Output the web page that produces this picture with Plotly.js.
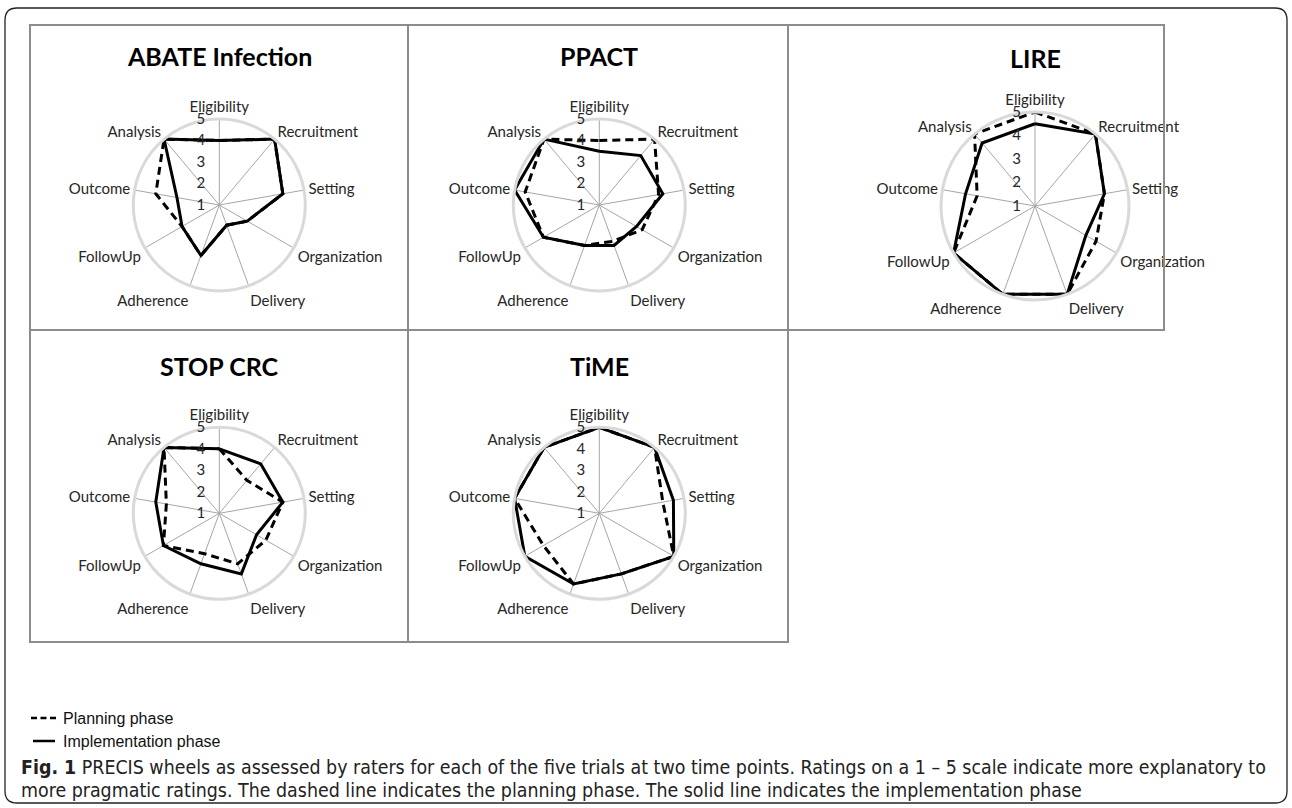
<!DOCTYPE html>
<html><head><meta charset="utf-8">
<script src="https://cdn.plot.ly/plotly-3.0.1.min.js"></script>
<style>html,body{margin:0;padding:0;background:#fff}#chart{width:1292px;height:808px}</style>
</head><body><div id="chart"></div>
<script>
// ---- data ----
const categories = ['Eligibility','Recruitment','Setting','Organization','Delivery','Adherence','FollowUp','Outcome','Analysis'];
const trialNames = ['ABATE Infection','PPACT','LIRE','STOP CRC','TiME'];
const radialTicks = [1,2,3,4,5];
const seriesNames = ['Planning phase','Implementation phase'];

const abatePlanning       = [4, 5, 4, 2.5, 2, 3.5, 3, 4, 5];
const abateImplementation = [4, 5, 4, 2.5, 2, 3.5, 3, 3, 5];
const ppactPlanning       = [4, 5, 3.8, 3.3, 2.8, 3, 4, 4.5, 5];
const ppactImplementation = [3.5, 4, 4, 3, 3, 3, 4, 5, 5];
const lirePlanning        = [5, 5, 4, 4, 5, 5, 5, 3.5, 5];
const lireImplementation  = [4.5, 5, 4, 3.5, 5, 5, 5, 4, 4.5];
const stopPlanning        = [4, 3, 4, 3.5, 3.5, 3, 4, 3.5, 5];
const stopImplementation  = [4, 4, 4, 3, 4, 3.5, 4, 4, 5];
const timePlanning        = [5, 5, 4, 5, 4, 4.5, 4, 5, 5];
const timeImplementation  = [5, 5, 4.5, 5, 4, 4.5, 5, 5, 5];

const captionBold = 'Fig. 1';
const captionLine1 = ' PRECIS wheels as assessed by raters for each of the five trials at two time points. Ratings on a 1 \u2013 5 scale indicate more explanatory to';
const captionLine2 = 'more pragmatic ratings. The dashed line indicates the planning phase. The solid line indicates the implementation phase';

// ---- layout helpers ----
const W = 1292, H = 808;
const px = x => x / W, py = y => 1 - y / H;

const panels = [
  {title: trialNames[0], plan: abatePlanning, impl: abateImplementation, cx: 219.3, cy: 205, R: 86, ty: 56},
  {title: trialNames[1], plan: ppactPlanning, impl: ppactImplementation, cx: 599.3, cy: 205, R: 86, ty: 56},
  {title: trialNames[2], plan: lirePlanning, impl: lireImplementation, cx: 1035, cy: 206, R: 94, ty: 58},
  {title: trialNames[3], plan: stopPlanning, impl: stopImplementation, cx: 219.3, cy: 513.3, R: 86, ty: 366},
  {title: trialNames[4], plan: timePlanning, impl: timeImplementation, cx: 599.3, cy: 513.3, R: 86, ty: 366}
];

const labelFont = {family: 'Lato, "Open Sans", sans-serif', size: 15, color: '#262626'};
const traces = [];
const layout = {
  width: W, height: H,
  margin: {l: 0, r: 0, t: 0, b: 0},
  paper_bgcolor: '#fff',
  showlegend: false,
  shapes: [], annotations: []
};

const close = a => a.concat([a[0]]);
// radial tick labels sit to the left of the vertical spoke
const radialText = radialTicks.map(v => String(v) + '\u2003');

panels.forEach((p, i) => {
  const sub = i === 0 ? 'polar' : 'polar' + (i + 1);
  traces.push({
    type: 'scatterpolar', subplot: sub, name: seriesNames[0],
    r: close(p.plan), theta: close(categories), mode: 'lines',
    line: {color: '#000', width: 3, dash: '8px,5px'}
  });
  traces.push({
    type: 'scatterpolar', subplot: sub, name: seriesNames[1],
    r: close(p.impl), theta: close(categories), mode: 'lines',
    line: {color: '#000', width: 3}
  });
  layout[sub] = {
    domain: {x: [px(p.cx - p.R), px(p.cx + p.R)], y: [py(p.cy + p.R), py(p.cy - p.R)]},
    bgcolor: 'rgba(0,0,0,0)',
    angularaxis: {
      type: 'category', categoryorder: 'array', categoryarray: categories,
      rotation: 90, direction: 'clockwise',
      showline: true, linecolor: '#d9d9d9', linewidth: 3,
      showgrid: true, gridcolor: '#a6a6a6', gridwidth: 1,
      ticks: '', tickfont: labelFont
    },
    radialaxis: {
      range: [1, 5], tickvals: radialTicks, ticktext: radialText,
      showline: false, showgrid: false, ticks: '',
      angle: 90, tickangle: 90, side: 'counterclockwise',
      tickfont: labelFont
    }
  };
  layout.annotations.push({
    text: '<b>' + p.title + '</b>', xref: 'paper', yref: 'paper',
    x: px(p.cx), y: py(p.ty), xanchor: 'center', yanchor: 'middle', showarrow: false,
    font: {family: 'Lato, "Open Sans", sans-serif', size: 25, color: '#000'}
  });
});

// panel borders
const border = {color: '#8c8c8c', width: 2};
const line = (x0, y0, x1, y1, l) => ({type: 'line', xref: 'paper', yref: 'paper', x0: px(x0), y0: py(y0), x1: px(x1), y1: py(y1), line: l});
layout.shapes.push({type: 'rect', xref: 'paper', yref: 'paper', x0: px(30), y0: py(330), x1: px(1164), y1: py(25), line: border});
layout.shapes.push({type: 'rect', xref: 'paper', yref: 'paper', x0: px(30), y0: py(642), x1: px(788), y1: py(330), line: border});
layout.shapes.push(line(408, 25, 408, 642, border));
layout.shapes.push(line(788, 25, 788, 330, border));

// outer rounded frame
(function () {
  const x0 = 5, y0 = 8, x1 = 1287, y1 = 803, r = 12;
  const P = (x, y) => px(x) + ',' + py(y);
  const d = 'M' + P(x0 + r, y0) + ' L' + P(x1 - r, y0) + ' Q' + P(x1, y0) + ' ' + P(x1, y0 + r) +
    ' L' + P(x1, y1 - r) + ' Q' + P(x1, y1) + ' ' + P(x1 - r, y1) +
    ' L' + P(x0 + r, y1) + ' Q' + P(x0, y1) + ' ' + P(x0, y1 - r) +
    ' L' + P(x0, y0 + r) + ' Q' + P(x0, y0) + ' ' + P(x0 + r, y0) + ' Z';
  layout.shapes.push({type: 'path', xref: 'paper', yref: 'paper', path: d, line: {color: '#222', width: 1.3}});
})();

// legend (symbols + text)
layout.shapes.push(line(31, 718, 56, 718, {color: '#000', width: 2.5, dash: '6px,3.5px'}));
layout.shapes.push(line(33, 741, 55, 741, {color: '#000', width: 2.5}));
const legFont = {family: '"Liberation Sans Narrow", "Liberation Sans", Arial, sans-serif', size: 16, color: '#111'};
layout.annotations.push({text: seriesNames[0], xref: 'paper', yref: 'paper', x: px(61), y: py(718), xanchor: 'left', yanchor: 'middle', showarrow: false, font: legFont});
layout.annotations.push({text: seriesNames[1], xref: 'paper', yref: 'paper', x: px(61), y: py(741), xanchor: 'left', yanchor: 'middle', showarrow: false, font: legFont});

// caption
const capFont = {family: '"Liberation Sans Narrow", "DejaVu Sans Condensed", sans-serif', size: 19.4, color: '#222'};
layout.annotations.push({text: '<b>' + captionBold + '</b>' + captionLine1, xref: 'paper', yref: 'paper', x: px(19), y: py(767), xanchor: 'left', yanchor: 'middle', showarrow: false, font: capFont});
layout.annotations.push({text: captionLine2, xref: 'paper', yref: 'paper', x: px(19), y: py(790), xanchor: 'left', yanchor: 'middle', showarrow: false, font: capFont});

Plotly.newPlot('chart', traces, layout, {displayModeBar: false, staticPlot: true});
</script></body></html>
